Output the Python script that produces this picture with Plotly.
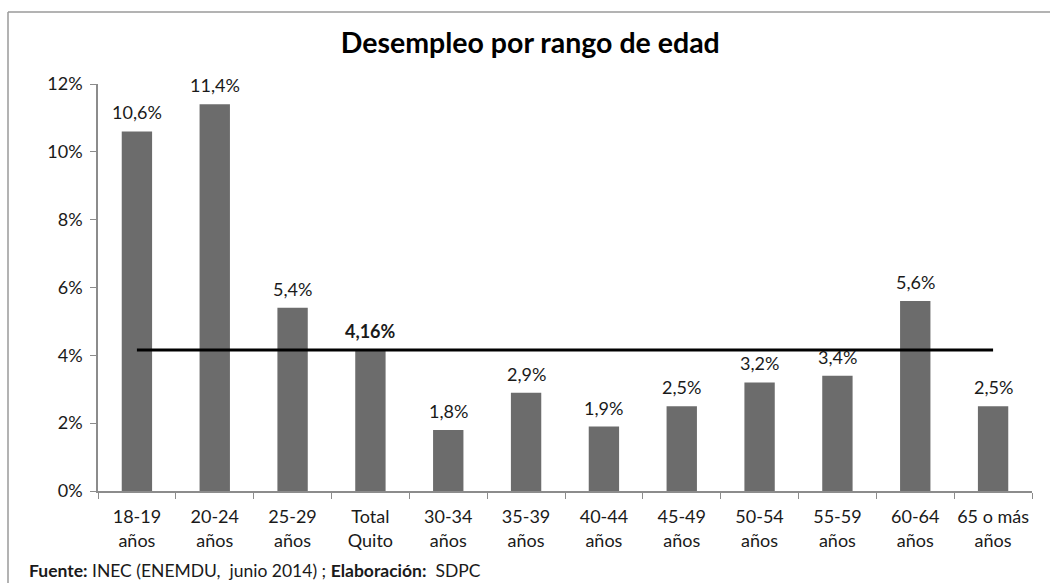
import plotly.graph_objects as go

categories = ["18-19<br>años", "20-24<br>años", "25-29<br>años", "Total<br>Quito",
              "30-34<br>años", "35-39<br>años", "40-44<br>años", "45-49<br>años",
              "50-54<br>años", "55-59<br>años", "60-64<br>años", "65 o más<br>años"]
values = [10.6, 11.4, 5.4, 4.16, 1.8, 2.9, 1.9, 2.5, 3.2, 3.4, 5.6, 2.5]
total_quito = 4.16
y_ticks = [0, 2, 4, 6, 8, 10, 12]

def fmt(v):
    s = f"{v:.2f}" if abs(v * 10 - round(v * 10)) > 1e-9 else f"{v:.1f}"
    return s.replace(".", ",") + "%"

FONT = "Lato, 'Noto Sans', sans-serif"

fig = go.Figure()
fig.add_trace(go.Bar(
    x=categories, y=values,
    marker=dict(color="#6c6c6c", line=dict(width=0)),
    width=0.39, showlegend=False,
))
fig.add_trace(go.Scatter(
    x=[categories[0], categories[-1]], y=[total_quito, total_quito],
    mode="lines", line=dict(color="#000000", width=3), showlegend=False,
    hoverinfo="skip",
))

annotations = []
for c, v in zip(categories, values):
    t = fmt(v)
    if c.startswith("Total"):
        t = "<b>" + t + "</b>"
    annotations.append(dict(
        x=c, y=v, xref="x", yref="y", text=t, showarrow=False,
        yanchor="middle", yshift=19,
        font=dict(family=FONT, size=18, color="#1a1a1a")))

annotations.append(dict(
    text="<b>Fuente:</b> INEC (ENEMDU,  junio 2014) ; <b>Elaboración:</b>  SDPC",
    xref="paper", yref="paper", x=(27 - 98) / 934, y=(491 - 570) / 407,
    xanchor="left", yanchor="middle", showarrow=False,
    font=dict(family=FONT, size=17.5, color="#1a1a1a")))

fig.update_layout(
    width=1050, height=583,
    margin=dict(l=98, r=18, t=84, b=92, autoexpand=False),
    paper_bgcolor="white", plot_bgcolor="white",
    font=dict(family=FONT, color="#1a1a1a"),
    title=dict(text="<b>Desempleo por rango de edad</b>",
               font=dict(family=FONT, size=28.5, color="#000000"),
               x=0.505, xanchor="center", y=1 - 43 / 583, yanchor="middle"),
    xaxis=dict(type="category", showgrid=False, showline=True, linecolor="#8c8c8c",
               linewidth=1.5, ticks="outside", tickson="boundaries", ticklen=6,
               tickcolor="#8c8c8c", ticklabelstandoff=9, tickangle=0, automargin=False,
               tickfont=dict(family=FONT, size=18, color="#1a1a1a")),
    yaxis=dict(range=[0, 12], tickvals=y_ticks, ticktext=[f"{t}%" for t in y_ticks],
               showgrid=False, showline=True, linecolor="#8c8c8c", linewidth=1.5,
               ticks="outside", ticklen=6, tickcolor="#8c8c8c", zeroline=False,
               ticklabelstandoff=4, automargin=False,
               tickfont=dict(family=FONT, size=18, color="#1a1a1a")),
    annotations=annotations,
    shapes=[
        dict(type="line", xref="paper", yref="paper", x0=(8 - 98) / 934, x1=1.02,
             y0=(491 - 12) / 407, y1=(491 - 12) / 407, line=dict(color="#9a9a9a", width=1.5)),
        dict(type="line", xref="paper", yref="paper", x0=(8 - 98) / 934, x1=(8 - 98) / 934,
             y0=(491 - 12) / 407, y1=-0.23, line=dict(color="#9a9a9a", width=1.5)),
    ],
)

fig.write_html("out.html", config={"displayModeBar": False},
               post_script="document.body.style.margin='0';")
